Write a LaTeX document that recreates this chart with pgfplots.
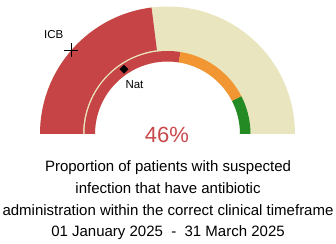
\documentclass[border=0pt]{standalone}
\usepackage{pgfplots}
\pgfplotsset{compat=1.18}
\usepackage{pgfplotstable}
\usepackage{fontspec}
\setmainfont{Liberation Sans}
\definecolor{gred}{HTML}{C64346}
\definecolor{gcream}{HTML}{E9E6BF}
\definecolor{gorange}{HTML}{F29533}
\definecolor{ggreen}{HTML}{238A24}
\definecolor{tred}{HTML}{C9484B}

% gauge value (percent)
\pgfplotstableread{
pct
46
}\valtab
% threshold bands (percent)
\pgfplotstableread{
from to
0 55
55 85
85 100
}\bandtab
% comparison markers: percent and radius (px)
\pgfplotstableread{
pct r
22.8 127.5
}\icbtab
\pgfplotstableread{
pct r
31.2 78
}\nattab

\pgfplotstablegetelem{0}{pct}\of\valtab \let\gval\pgfplotsretval
\pgfplotstablegetelem{0}{to}\of\bandtab \let\bA\pgfplotsretval
\pgfplotstablegetelem{1}{to}\of\bandtab \let\bB\pgfplotsretval
\pgfmathsetmacro\aval{180-1.8*\gval}
\pgfmathsetmacro\aA{180-1.8*\bA}
\pgfmathsetmacro\aB{180-1.8*\bB}

\newcommand\sector[5]{%
  \fill[#1] (#2:#5bp) arc[start angle=#2,end angle=#3,radius=#5bp]
     -- (#3:#4bp) arc[start angle=#3,end angle=#2,radius=#4bp] -- cycle;}

\begin{document}
\begin{tikzpicture}
\begin{axis}[hide axis, x=1bp, y=1bp, xmin=-167.5, xmax=168.5, ymin=-110, ymax=134,
  clip=false]
\coordinate (ll) at (axis cs:-167.5,-110);
\coordinate (ur) at (axis cs:168.5,134);
\begin{scope}[shift={(axis cs:0,0)}]
\sector{gcream}{180}{0}{72.5}{127.5}
\sector{gred}{180}{\aval}{84.5}{127.5}
\sector{gred}{180}{\aA}{72.5}{83}
\sector{gorange}{\aA}{\aB}{72.5}{83}
\sector{ggreen}{\aB}{0}{72.5}{83}
\end{scope}
\addplot[only marks, mark=+, mark size=7bp, line width=1.1bp, black, data cs=polar]
  table[x expr={180-1.8*\thisrow{pct}}, y=r] {\icbtab};
\addplot[only marks, mark=square*, mark size=2.9bp, mark options={rotate=45}, black, data cs=polar]
  table[x expr={180-1.8*\thisrow{pct}}, y=r] {\nattab};
\node[font=\fontsize{11.5bp}{13bp}\selectfont] at (axis cs:-113.7,99.8) {ICB};
\node[font=\fontsize{11.5bp}{13bp}\selectfont] at (axis cs:-33,49) {Nat};
\node[anchor=base, text=tred, font=\fontsize{22bp}{24bp}\selectfont, inner sep=0pt] at (axis cs:-0.5,-8.3) {46\%};
\node[anchor=base, font=\fontsize{15bp}{18bp}\selectfont, inner sep=0pt] at (axis cs:0.5,-37) {Proportion of patients with suspected};
\node[anchor=base, font=\fontsize{15bp}{18bp}\selectfont, inner sep=0pt] at (axis cs:0.5,-59) {infection that have antibiotic};
\node[anchor=base, font=\fontsize{15bp}{18bp}\selectfont, inner sep=0pt] at (axis cs:0.5,-81) {administration within the correct clinical timeframe};
\node[anchor=base, font=\fontsize{15bp}{18bp}\selectfont, inner sep=0pt] at (axis cs:0.5,-102.8) {01 January 2025\ \ -\ \ 31 March 2025};
\end{axis}
\pgfresetboundingbox
\path[use as bounding box] (ll) rectangle (ur);
\end{tikzpicture}
\end{document}
